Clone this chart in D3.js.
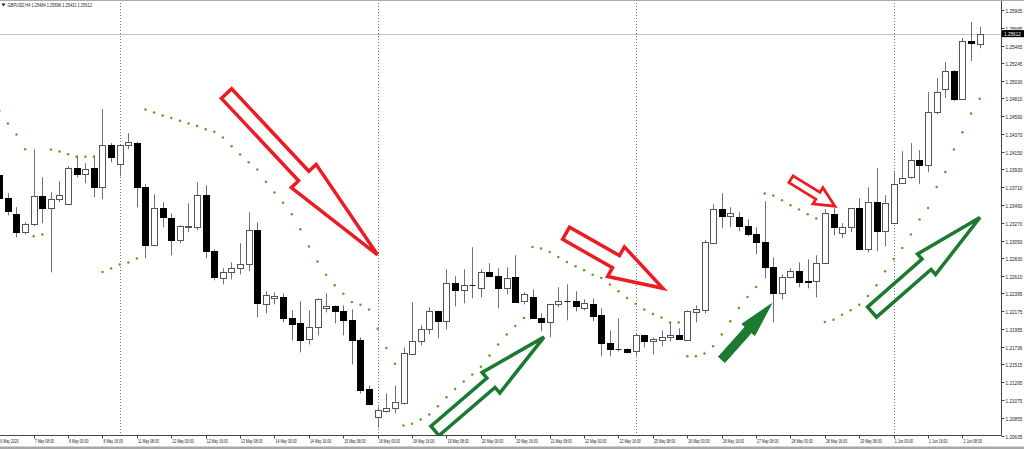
<!DOCTYPE html>
<html><head><meta charset="utf-8">
<script src="https://cdn.jsdelivr.net/npm/d3@7"></script>
<style>body{margin:0;background:#fff}svg{display:block}text{font-family:"Liberation Sans",Arial,sans-serif}</style>
</head><body><svg id="c" width="1024" height="449"></svg>
<script>
// ---------------- DATA ----------------
const symbol = "GBPUSD,H4";
const headerOHLC = [1.25484, 1.25696, 1.25431, 1.25612];
const lastPrice = 1.25612;

const open = [1.23859,1.23574,1.23375,1.23152,1.23251,1.23599,1.23450,1.23562,1.23499,1.23946,1.23871,1.23946,1.23710,1.24231,
1.23995,1.24231,1.24256,1.23710,1.22991,1.23450,1.23326,1.23053,1.23214,1.23214,1.23611,1.22917,1.22582,1.22656,1.22706,1.22755,
1.23177,1.22259,1.22334,1.22346,1.22086,1.22024,1.21825,1.21974,1.22210,1.22235,1.22173,1.22061,1.21813,1.21206,
1.20858,1.20933,1.20970,1.21032,1.21639,1.21801,1.21949,1.22173,1.22049,1.22520,1.22433,1.22495,1.22458,1.22656,1.22607,1.22458,
1.22594,1.22297,1.22346,1.22086,1.22036,1.22259,1.22297,1.22297,1.22210,1.22259,1.22123,1.21776,1.21701,1.21701,
1.21677,1.21875,1.21801,1.21813,1.21850,1.21875,1.21813,1.22160,1.22185,1.23016,1.23437,1.23351,1.23338,1.23227,1.23127,1.23028,
1.22718,1.22396,1.22594,1.22669,1.22545,1.22545,1.22768,1.23375,1.23140,1.23214,1.23450,1.22941,1.23524,1.23165,
1.23264,1.23760,1.23834,1.24045,1.23983,1.24640,1.24925,1.25149,1.24801,1.25521,1.25484];

const high = [1.23896,1.23636,1.23462,1.23276,1.24181,1.23834,1.23648,1.23785,1.23971,1.24107,1.24008,1.24107,1.24677,1.24256,
1.24243,1.24380,1.24268,1.23747,1.23623,1.23524,1.23388,1.23239,1.23512,1.23772,1.23735,1.22941,1.22706,1.22780,1.23016,1.23400,
1.23276,1.22421,1.22408,1.22396,1.22185,1.22297,1.22185,1.22334,1.22396,1.22247,1.22247,1.22197,1.21850,1.21255,
1.20995,1.21156,1.21255,1.21726,1.22284,1.21999,1.22222,1.22180,1.22693,1.22607,1.22693,1.22966,1.22693,1.22768,1.22706,1.22718,
1.22867,1.22408,1.22445,1.22148,1.22265,1.22470,1.22507,1.22421,1.22321,1.22334,1.22210,1.21937,1.22086,1.21714,
1.21900,1.21880,1.21850,1.21937,1.22036,1.21962,1.22185,1.22247,1.23053,1.23499,1.23636,1.23462,1.23400,1.23313,1.23214,1.23537,
1.22842,1.22631,1.22706,1.22780,1.22817,1.22867,1.23437,1.23450,1.23264,1.23455,1.23574,1.23710,1.23946,1.23611,
1.23896,1.24157,1.24256,1.24169,1.24888,1.25062,1.25260,1.25161,1.25558,1.25756,1.25696];

const low = [1.23512,1.23363,1.23090,1.23127,1.23227,1.23264,1.22656,1.23524,1.23487,1.23834,1.23760,1.23586,1.23562,1.24020,
1.23847,1.24181,1.23462,1.22830,1.22979,1.23214,1.22867,1.23016,1.23152,1.23177,1.22830,1.22557,1.22507,1.22569,1.22631,1.22669,
1.22098,1.22148,1.22259,1.22036,1.21813,1.21664,1.21763,1.21875,1.22160,1.22024,1.21875,1.21515,1.21156,1.21010,
1.20734,1.20920,1.20908,1.21020,1.21630,1.21751,1.21887,1.21838,1.21949,1.22235,1.22272,1.22334,1.22346,1.22600,1.22210,1.22383,
1.22280,1.22259,1.22080,1.21925,1.21850,1.22222,1.22061,1.22173,1.22185,1.22049,1.21615,1.21615,1.21677,1.21652,
1.21615,1.21726,1.21639,1.21739,1.21801,1.21820,1.21805,1.22036,1.22148,1.23005,1.23202,1.23214,1.23165,1.23103,1.22879,1.22582,
1.22036,1.22321,1.22582,1.22470,1.22458,1.22346,1.22760,1.23115,1.23078,1.23152,1.22929,1.22904,1.22917,1.22979,
1.23255,1.23755,1.23815,1.23747,1.23896,1.24615,1.24814,1.24777,1.24795,1.25273,1.25431];

const close = [1.23574,1.23413,1.23152,1.23251,1.23599,1.23450,1.23562,1.23611,1.23946,1.23871,1.23933,1.23710,1.24231,1.24082,
1.24231,1.24268,1.23710,1.22991,1.23450,1.23338,1.23053,1.23227,1.23227,1.23611,1.22917,1.22594,1.22656,1.22706,1.22755,1.23177,
1.22272,1.22371,1.22359,1.22086,1.22011,1.21813,1.21974,1.22321,1.22235,1.22173,1.22061,1.21813,1.21193,1.21019,
1.20945,1.20970,1.21044,1.21652,1.21801,1.21949,1.22173,1.22049,1.22520,1.22433,1.22495,1.22495,1.22656,1.22607,1.22458,1.22582,
1.22284,1.22383,1.22086,1.22036,1.22259,1.22297,1.22297,1.22235,1.22272,1.22111,1.21776,1.21701,1.21701,1.21664,
1.21875,1.21801,1.21825,1.21850,1.21875,1.21825,1.22173,1.22197,1.23028,1.23437,1.23351,1.23388,1.23227,1.23127,1.23028,1.22718,
1.22396,1.22594,1.22669,1.22532,1.22532,1.22768,1.23388,1.23214,1.23214,1.23450,1.22941,1.23524,1.23165,1.23512,
1.23747,1.23822,1.24045,1.23983,1.24640,1.24888,1.25149,1.24801,1.25521,1.25496,1.25612];

const sar = [1.24656,1.24500,1.24364,1.24181,1.23103,1.23124,1.24178,1.24153,1.24119,1.24086,1.24086,1.24086,1.22660,1.22702,
1.22752,1.22777,1.22826,1.24674,1.24637,1.24599,1.24566,1.24532,1.24500,1.24467,1.24429,1.24396,1.24327,1.24219,1.24116,1.24020,
1.23931,1.23778,1.23645,1.23518,1.23375,1.23188,1.22976,1.22789,1.22627,1.22495,1.22392,1.22289,1.22255,1.22197,
1.21958,1.21718,1.21524,1.20759,1.20780,1.20833,1.20895,1.20998,1.21110,1.21212,1.21305,1.21391,1.21487,1.21627,1.21763,1.21885,
1.21991,1.22090,1.22970,1.22951,1.22909,1.22847,1.22785,1.22732,1.22681,1.22627,1.22586,1.22504,1.22421,1.22338,
1.22268,1.22197,1.22139,1.22095,1.22036,1.22036,1.21618,1.21618,1.21652,1.21739,1.21885,1.22049,1.22213,1.22350,1.22474,1.23632,
1.23607,1.23549,1.23487,1.23434,1.23375,1.23322,1.22040,1.22070,1.22132,1.22185,1.22255,1.22362,1.22495,1.22669,
1.22821,1.22958,1.23124,1.23310,1.23454,1.23714,1.23900,1.24178,1.24392,1.24624,1.24805];

const priceTicks = [1.25905,1.25685,1.25465,1.25245,1.25030,1.24810,1.24590,1.24370,1.24150,1.23930,1.23710,1.23490,1.23270,
1.23050,1.22830,1.22610,1.22395,1.22175,1.21955,1.21736,1.21515,1.21295,1.21075,1.20855,1.20635];

const timeLabels = ["6 May 2020","7 May 08:00","8 May 00:00","8 May 16:00","11 May 08:00","12 May 00:00","12 May 16:00",
"13 May 08:00","14 May 00:00","14 May 16:00","15 May 08:00","18 May 00:00","18 May 16:00","19 May 08:00","20 May 00:00",
"20 May 16:00","21 May 08:00","22 May 00:00","22 May 16:00","25 May 08:00","26 May 00:00","26 May 16:00","27 May 08:00",
"28 May 00:00","28 May 16:00","29 May 08:00","1 Jun 00:00","1 Jun 16:00","2 Jun 08:00"];
const timeLabelIndex = [0,4,8,12,16,20,24,28,32,36,40,44,48,52,56,60,64,68,72,76,80,84,88,92,96,100,104,108,112];
const weekSeparators = [14,44,74,104];

// annotation arrows: tail / tip in (bar index, price)
const arrowTail = [[26.42,1.24870],[65.90,1.23140],[92.06,1.23809],[50.66,1.20693],[84.00,1.21575],[101.48,1.22164]];
const arrowTip  = [[43.98,1.22873],[77.17,1.22458],[97.17,1.23475],[63.34,1.21854],[89.81,1.22268],[114.03,1.23335]];

// ---------------- STYLE ----------------
const RED = "#ec1c24", GREEN = "#1b7a30";
const arrowStyle = [
  {stroke:RED, fill:"none", headLen:108, headHalf:17, shaftHalf:7, sw:3.5},
  {stroke:RED, fill:"none", headLen:54, headHalf:17, shaftHalf:7, sw:3.5},
  {stroke:RED, fill:"none", headLen:20, headHalf:9.5, shaftHalf:4, sw:2.8},
  {stroke:GREEN, fill:"none", headLen:70, headHalf:13.6, shaftHalf:6.2, sw:3.5},
  {stroke:GREEN, fill:GREEN, headLen:35, headHalf:8.6, shaftHalf:4.3, sw:1},
  {stroke:GREEN, fill:"none", headLen:71, headHalf:13.6, shaftHalf:6.8, sw:3.5}
];

const svg = d3.select("#c");
const plotR = 1001.5, plotB = 435.5;
const x = d3.scaleLinear().domain([0, open.length - 1]).range([-0.7, -0.7 + 8.6 * (open.length - 1)]);
const y = d3.scaleLinear().domain([1.20635, 1.25905]).range([435.5, 10]);

svg.append("rect").attr("width",1024).attr("height",449).attr("fill","#fff");

const plot = svg.append("g");
plot.append("clipPath").attr("id","clip").append("rect").attr("x",0).attr("y",0).attr("width",plotR).attr("height",plotB);
const g = plot.append("g").attr("clip-path","url(#clip)");

// week separators
g.selectAll("line.sep").data(weekSeparators).join("line")
  .attr("x1", d => Math.round(x(d)) + 0.5).attr("x2", d => Math.round(x(d)) + 0.5)
  .attr("y1", 0).attr("y2", plotB)
  .attr("stroke", "#777").attr("stroke-dasharray", "1,2");

// last price line
g.append("line").attr("x1",0).attr("x2",plotR)
  .attr("y1", Math.round(y(lastPrice)) + 0.5).attr("y2", Math.round(y(lastPrice)) + 0.5)
  .attr("stroke","#c4c4c4");

// candles
const idx = d3.range(open.length);
const cg = g.append("g");
idx.forEach(k => {
  const cx = Math.round(x(k)) + 0.5;
  cg.append("line").attr("x1",cx).attr("x2",cx)
    .attr("y1", y(high[k])).attr("y2", y(low[k]))
    .attr("stroke","#707070").attr("stroke-width",1);
  const yo = y(open[k]), yc = y(close[k]);
  const top = Math.round(Math.min(yo,yc)) + 0.5, bot = Math.round(Math.max(yo,yc)) + 0.5;
  const bull = close[k] > open[k];
  if (bot - top < 1) {
    cg.append("line").attr("x1",cx-3).attr("x2",cx+3).attr("y1",top).attr("y2",top)
      .attr("stroke","#222").attr("stroke-width",1);
  } else {
    cg.append("rect").attr("x", cx - 3).attr("width", 6).attr("y", top).attr("height", bot - top)
      .attr("fill", bull ? "#fff" : "#000").attr("stroke", bull ? "#555" : "#000").attr("stroke-width",1);
  }
});

// parabolic SAR
g.selectAll("circle.sar").data(idx).join("circle")
  .attr("cx", k => x(k)).attr("cy", k => y(sar[k])).attr("r", 1.25).attr("fill", "#6a9a24");

// arrows
arrowTail.forEach((t, i) => {
  const s = arrowStyle[i];
  const p0 = [x(t[0]), y(t[1])], p1 = [x(arrowTip[i][0]), y(arrowTip[i][1])];
  const dx = p1[0]-p0[0], dy = p1[1]-p0[1], L = Math.hypot(dx,dy);
  const u = [dx/L, dy/L], n = [-u[1], u[0]];
  const b = [p1[0]-u[0]*s.headLen, p1[1]-u[1]*s.headLen];
  const pt = (p, m) => [p[0]+n[0]*m, p[1]+n[1]*m];
  const pts = [pt(p0,s.shaftHalf), pt(b,s.shaftHalf), pt(b,s.headHalf), p1, pt(b,-s.headHalf), pt(b,-s.shaftHalf), pt(p0,-s.shaftHalf)];
  g.append("polygon").attr("points", pts.map(p => p.join(",")).join(" "))
    .attr("fill", s.fill).attr("stroke", s.stroke).attr("stroke-width", s.sw).attr("stroke-linejoin","miter");
});

// axes frame
svg.append("line").attr("x1",plotR).attr("x2",plotR).attr("y1",0).attr("y2",plotB).attr("stroke","#444");
svg.append("line").attr("x1",0).attr("x2",plotR).attr("y1",plotB).attr("y2",plotB).attr("stroke","#444");
svg.append("line").attr("x1",0).attr("x2",1024).attr("y1",0.5).attr("y2",0.5).attr("stroke","#aaa");
svg.append("rect").attr("x",0).attr("y",446.5).attr("width",1024).attr("height",2.5).attr("fill","#a8a8a8");

// y axis ticks & labels (horizontally condensed like the terminal font)
const ya = svg.append("g");
priceTicks.forEach(p => {
  const yy = Math.round(y(p)) + 0.5;
  ya.append("line").attr("x1",plotR).attr("x2",plotR+3).attr("y1",yy).attr("y2",yy).attr("stroke","#444");
  ya.append("text").attr("transform", `translate(1005.5,${yy+2}) scale(0.78,1)`)
    .attr("font-size",6).attr("fill","#222").text(p.toFixed(5));
});
// last price marker
const ly = y(lastPrice);
ya.append("rect").attr("x",1002).attr("y",ly-3.5).attr("width",22).attr("height",7).attr("fill","#000");
ya.append("text").attr("transform", `translate(1004,${ly+2}) scale(0.78,1)`)
  .attr("font-size",6).attr("fill","#fff").text(lastPrice.toFixed(5));

// x axis ticks & labels
const xa = svg.append("g");
timeLabelIndex.forEach((k, i) => {
  const xx = Math.round(x(k)) + 0.5;
  xa.append("line").attr("x1",xx).attr("x2",xx).attr("y1",plotB).attr("y2",plotB+3).attr("stroke","#444");
  xa.append("text").attr("transform", `translate(${x(k) + 1},442.5) scale(0.64,1)`)
    .attr("font-size",5.5).attr("fill","#222").text(timeLabels[i]);
});

// header
svg.append("path").attr("d","M1.5,3.5 L5.5,3.5 L3.5,6.5 Z").attr("fill","#222");
const htxt = symbol + "  " + headerOHLC.map(v => v.toFixed(5)).join(" ");
svg.append("text").attr("transform","translate(7.5,7.3) scale(0.72,1)").attr("font-size",5.5).attr("fill","#222").text(htxt);
</script></body></html>
